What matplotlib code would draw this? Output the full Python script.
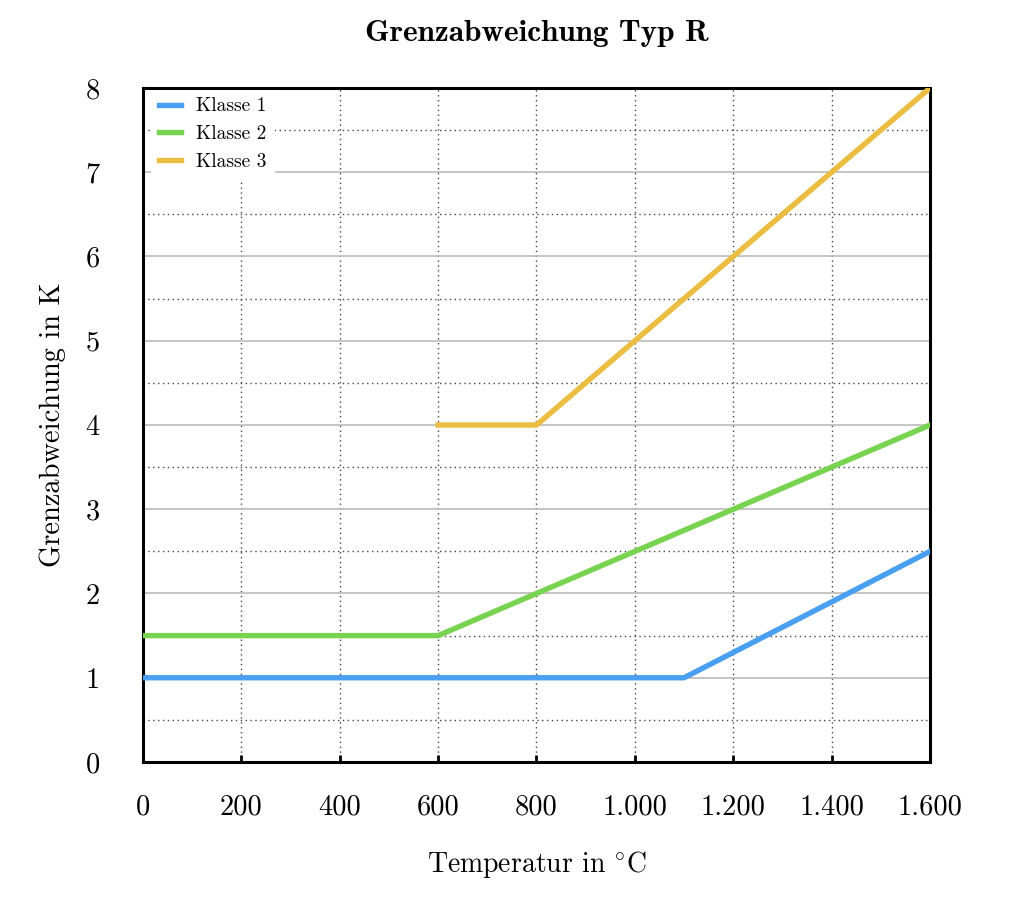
import matplotlib
matplotlib.use("Agg")
import matplotlib.pyplot as plt
from matplotlib.ticker import FuncFormatter, MultipleLocator

plt.rcParams['font.family'] = ['cmr10', 'DejaVu Serif']
plt.rcParams['mathtext.fontset'] = 'cm'
plt.rcParams['axes.unicode_minus'] = False

# data
x_k1 = [0, 1100, 1600]
y_k1 = [1, 1, 2.5]
x_k2 = [0, 600, 1600]
y_k2 = [1.5, 1.5, 4]
x_k3 = [600, 800, 1600]
y_k3 = [4, 4, 8]
labels = ["Klasse 1", "Klasse 2", "Klasse 3"]
colors = ["#4aa0f0", "#78d350", "#ebbd40"]

fig = plt.figure(figsize=(10.24, 9.05), dpi=100)
ax = fig.add_axes([0.1396, 0.158, 0.7686, 0.7448])

ax.plot(x_k1, y_k1, color=colors[0], lw=3.9, label=labels[0], zorder=3)
ax.plot(x_k2, y_k2, color=colors[1], lw=3.9, label=labels[1], zorder=3)
ax.plot(x_k3, y_k3, color=colors[2], lw=3.9, label=labels[2], zorder=3)

ax.set_xlim(0, 1600)
ax.set_ylim(0, 8)
ax.xaxis.set_major_locator(MultipleLocator(200))
ax.yaxis.set_major_locator(MultipleLocator(1))
ax.yaxis.set_minor_locator(MultipleLocator(0.5))

def fmt_thousand(v, pos):
    return "{:,}".format(int(v)).replace(",", ".")
ax.xaxis.set_major_formatter(FuncFormatter(fmt_thousand))

ax.grid(axis='x', which='major', color='#444444', linestyle=(0, (1, 2.5)), lw=1.0)
ax.grid(axis='y', which='major', color='#bbbbbb', linestyle='-', lw=1.2)
ax.grid(axis='y', which='minor', color='#444444', linestyle=(0, (1, 2.5)), lw=1.0)
ax.set_axisbelow(True)

ax.tick_params(axis='x', which='major', direction='in', length=5, width=2,
               labelsize=20.5, pad=23)
ax.tick_params(axis='y', which='both', length=0, labelsize=20.5, pad=31)
for s in ax.spines.values():
    s.set_linewidth(2.2)

ax.set_title("Grenzabweichung Typ R", fontsize=22.5, fontfamily=['cmb10', 'DejaVu Serif'],
             pad=34)
ax.set_xlabel(r"Temperatur in $^{\circ}$C", fontsize=20, labelpad=21)
ax.set_ylabel("Grenzabweichung in K", fontsize=20.5, labelpad=14)

leg = ax.legend(loc='upper left', bbox_to_anchor=(0.0025, 1.006), fontsize=14,
                frameon=True, fancybox=False, handlelength=1.15, handletextpad=0.8,
                borderaxespad=0.3, labelspacing=0.5)
leg.get_frame().set_edgecolor('none')
leg.get_frame().set_facecolor('white')
leg.get_frame().set_alpha(1)

fig.savefig("out.png", dpi=100)
